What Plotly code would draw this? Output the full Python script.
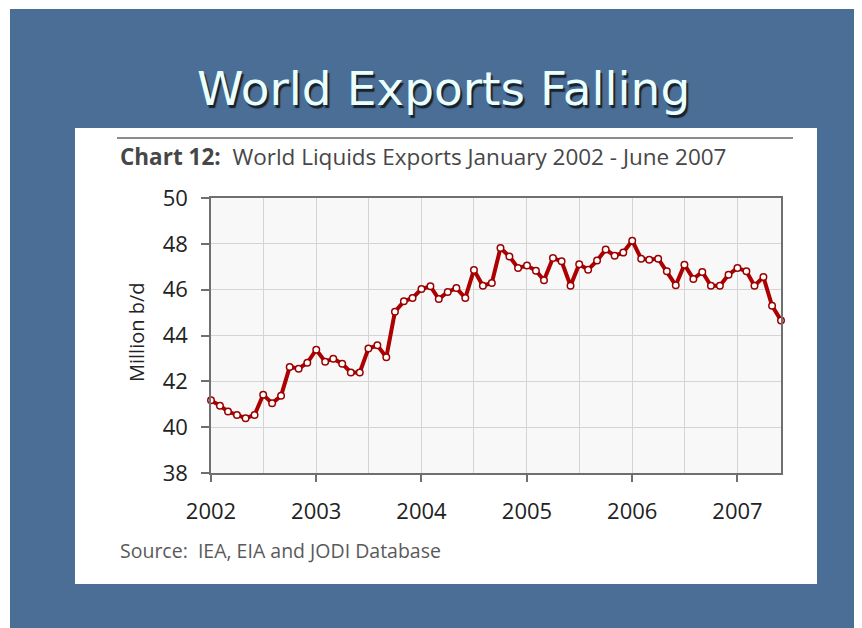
import pandas as pd
import plotly.graph_objects as go

# ---- data ----
months = pd.date_range("2002-01-01", "2007-06-01", freq="MS")
exports = [
    41.17, 40.94, 40.68, 40.53, 40.39, 40.53, 41.42, 41.04, 41.37, 42.63, 42.55, 42.81,  # 2002
    43.38, 42.86, 42.99, 42.77, 42.39, 42.39, 43.43, 43.57, 43.05, 45.04, 45.49, 45.64,  # 2003
    46.03, 46.15, 45.59, 45.90, 46.07, 45.64, 46.86, 46.17, 46.29, 47.82, 47.45, 46.95,  # 2004
    47.05, 46.83, 46.41, 47.38, 47.24, 46.17, 47.11, 46.87, 47.27, 47.75, 47.48, 47.62,  # 2005
    48.14, 47.35, 47.31, 47.35, 46.80, 46.19, 47.09, 46.47, 46.77, 46.17, 46.17, 46.65,  # 2006
    46.95, 46.80, 46.17, 46.55, 45.30, 44.66,                                            # 2007
]
year_ticks = ["2002", "2003", "2004", "2005", "2006", "2007"]
y_ticks = [38, 40, 42, 44, 46, 48, 50]

slide_title = "World Exports Falling"
chart_title_bold = "Chart 12:"
chart_title = "World Liquids Exports January 2002 - June 2007"
source_text = "Source:  IEA, EIA and JODI Database"
y_label = "Million b/d"

# ---- geometry (screen pixels; page body has an 8px margin) ----
OFF = 8
W, H = 862 - OFF, 628 - OFF
L, R, T, B = 211 - OFF, 781 - OFF, 198 - OFF, 473 - OFF
def px(x):
    return (x - OFF - L) / (R - L)
def py(y):
    return (B - (y - OFF)) / (B - T)

fig = go.Figure()
fig.add_trace(go.Scatter(
    x=months, y=exports, mode="lines+markers",
    line=dict(color="#ad0000", width=4),
    marker=dict(symbol="circle", size=6.5, color="white",
                line=dict(color="#9a0000", width=1.5)),
    cliponaxis=False, showlegend=False, hoverinfo="skip",
))

shapes = [
    dict(type="rect", xref="paper", yref="paper", x0=px(10), x1=px(870), y0=py(640), y1=py(9),
         fillcolor="#4a6e96", line=dict(width=0), layer="below"),
    dict(type="rect", xref="paper", yref="paper", x0=px(75), x1=px(817), y0=py(584), y1=py(128),
         fillcolor="white", line=dict(width=0), layer="below"),
    dict(type="rect", xref="paper", yref="paper", x0=0, x1=1, y0=0, y1=1,
         fillcolor="#f8f8f8", line=dict(width=0), layer="below"),
    dict(type="line", xref="paper", yref="paper", x0=px(117), x1=px(793), y0=py(138), y1=py(138),
         line=dict(color="#8c8c8c", width=2), layer="below"),
]

annotations = [
    dict(text=slide_title, xref="paper", yref="paper", x=px(443), y=py(88),
         xanchor="center", yanchor="middle", showarrow=False,
         font=dict(family="DejaVu Sans", size=47, color="#eaffff",
                   shadow="2px 3px 1px #18222d")),
    dict(text=f"<b>{chart_title_bold}</b>  {chart_title}", xref="paper", yref="paper",
         x=px(118), y=py(157), xanchor="left", yanchor="middle", showarrow=False,
         font=dict(family="Open Sans", size=22.5, color="#474747")),
    dict(text=source_text, xref="paper", yref="paper",
         x=px(118), y=py(550), xanchor="left", yanchor="middle", showarrow=False,
         font=dict(family="Open Sans", size=19.5, color="#5a5a5a")),
    dict(text=y_label, xref="paper", yref="paper", x=px(136), y=py(333),
         xanchor="center", yanchor="middle", textangle=-90, showarrow=False,
         font=dict(family="Open Sans", size=20, color="#222222")),
]

fig.update_layout(
    width=W, height=H,
    margin=dict(l=L, r=W - R, t=T, b=H - B, pad=0),
    paper_bgcolor="white", plot_bgcolor="rgba(0,0,0,0)",
    shapes=shapes, annotations=annotations,
    font=dict(family="Open Sans", color="#222222"),
)
fig.update_xaxes(
    range=[months[0], months[-1]],
    tickvals=[pd.Timestamp(f"{y}-01-01") for y in year_ticks], ticktext=year_ticks,
    showgrid=True, gridcolor="#d4d4d4", gridwidth=1,
    minor=dict(dtick="M6", tick0="2002-01-01", showgrid=True, gridcolor="#d4d4d4", gridwidth=1),
    showline=True, linecolor="#6f6f6f", linewidth=1.5, mirror=True,
    ticks="outside", ticklen=7, tickcolor="#6f6f6f", tickwidth=1.5,
    tickfont=dict(family="Open Sans", size=22, color="#222222"),
    ticklabelstandoff=11, zeroline=False,
)
fig.update_yaxes(
    range=[38, 50], tickvals=y_ticks,
    showgrid=True, gridcolor="#d4d4d4", gridwidth=1,
    showline=True, linecolor="#6f6f6f", linewidth=1.5, mirror=True,
    ticks="outside", ticklen=8, tickcolor="#6f6f6f", tickwidth=1.5,
    tickfont=dict(family="Open Sans", size=22, color="#222222"),
    ticklabelstandoff=9, zeroline=False,
)

fig.write_html("out.html")
